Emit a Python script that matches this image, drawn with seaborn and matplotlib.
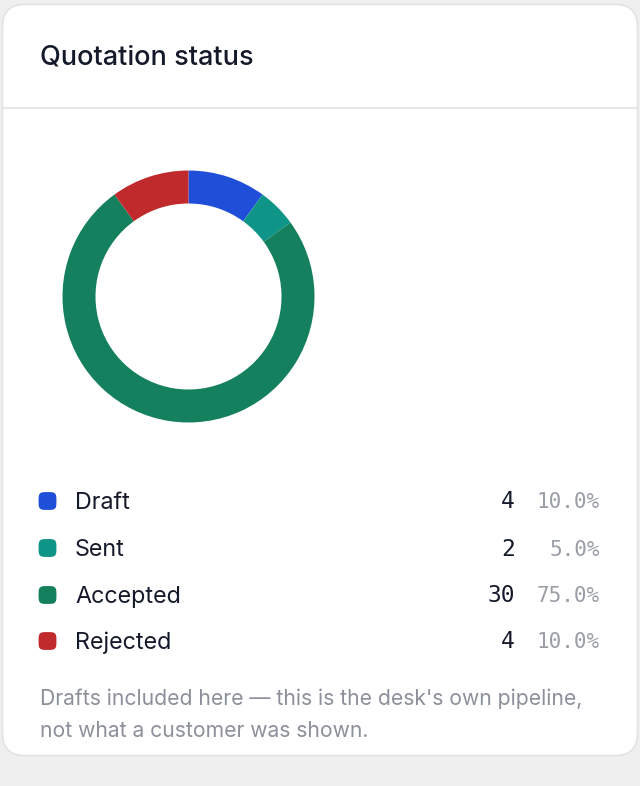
import matplotlib
matplotlib.use("Agg")
import matplotlib.pyplot as plt
from matplotlib.patches import FancyBboxPatch
from matplotlib.path import Path
import numpy as np
import seaborn as sns
import pandas as pd

# ---- data ----
categories = ["Draft", "Sent", "Accepted", "Rejected"]
counts = [4, 2, 30, 4]
percent_labels = ["10.0%", "5.0%", "75.0%", "10.0%"]
colors = ["#1f4fd8", "#0f9488", "#15805d", "#c02a2d"]
title = "Quotation status"
footnote = ["Drafts included here \u2014 this is the desk's own pipeline,",
            "not what a customer was shown."]

sns.set_theme(style="white")
plt.rcParams["font.family"] = ["Inter", "DejaVu Sans"]

W, H = 640, 786
fig = plt.figure(figsize=(W / 100, H / 100), dpi=100)
fig.patch.set_facecolor("#efefef")

# overlay axes in pixel coordinates
ov = fig.add_axes([0, 0, 1, 1])

card = FancyBboxPatch((2.5, 4.5), 635, 751, boxstyle="round,pad=0,rounding_size=22",
                      facecolor="white", edgecolor="#e3e3e3", linewidth=1.2, zorder=0)
ov.add_patch(card)
ov.plot([2.5, 637.5], [108, 108], color="#e4e4e4", lw=1.2, zorder=1)

ov.text(40, 57.5, title, fontsize=19.5, fontweight="medium", color="#151a2b",
        va="center", ha="left")

# rounded-square (squircle) marker
t = np.linspace(0, 2 * np.pi, 80)
ex = 4.0
mx = np.sign(np.cos(t)) * np.abs(np.cos(t)) ** (2 / ex)
my = np.sign(np.sin(t)) * np.abs(np.sin(t)) ** (2 / ex)
squircle = Path(np.column_stack([mx, my]))

# legend rows
row_y = [501, 548, 595, 641]
df = pd.DataFrame({"x": [47.5] * 4, "y": row_y, "cat": categories})
sns.scatterplot(data=df, x="x", y="y", hue="cat", palette=dict(zip(categories, colors)),
                marker=squircle, s=165, linewidth=0, legend=False, ax=ov, zorder=3)
ov.set_xlim(0, W)
ov.set_ylim(H, 0)
ov.axis("off")

for y, cat, n, p in zip(row_y, categories, counts, percent_labels):
    ov.text(75, y + 2, cat, fontsize=16.8, color="#151a2b", va="center", ha="left")
    ov.text(515, y + 1, str(n), fontsize=16.5, color="#151a2b", va="center", ha="right",
            family="DejaVu Sans Mono")
    ov.text(600, y + 1.5, p, fontsize=15, color="#9a9ea6", va="center", ha="right",
            family="DejaVu Sans Mono")

ov.text(40, 699, footnote[0], fontsize=15.2, color="#8c909a", va="center", ha="left")
ov.text(40, 731, footnote[1], fontsize=15.2, color="#8c909a", va="center", ha="left")

# donut
cx, cy, r = 188.5, 296.5, 126
ax = fig.add_axes([(cx - r) / W, (H - cy - r) / H, 2 * r / W, 2 * r / H])
ax.pie(counts, colors=colors, startangle=90, counterclock=False, radius=1,
       wedgeprops=dict(width=33 / 126, linewidth=0))
ax.set_xlim(-1, 1)
ax.set_ylim(-1, 1)
ax.set_aspect("equal")
ax.axis("off")

fig.savefig("out.png", dpi=100, facecolor=fig.get_facecolor())
